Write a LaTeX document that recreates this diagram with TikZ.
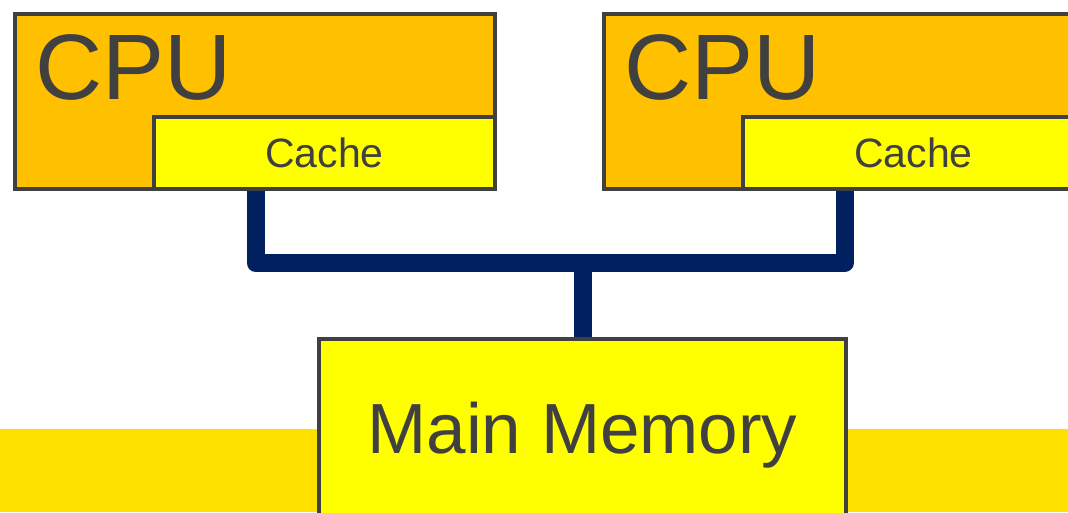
\documentclass[tikz,border=0pt]{standalone}
\usepackage{fontspec}
\setmainfont{Liberation Sans}
\usetikzlibrary{calc,backgrounds}

\definecolor{cpuorange}{HTML}{FFC000}
\definecolor{cacheyellow}{HTML}{FFFF00}
\definecolor{bandyellow}{HTML}{FFE100}
\definecolor{busblue}{HTML}{002060}
\definecolor{edgegray}{HTML}{404040}

\tikzset{
	cpubox/.style={draw=edgegray, line width=4pt, fill=cpuorange, inner sep=0pt,
		minimum width=480pt, minimum height=175pt},
	cachebox/.style={draw=edgegray, line width=4pt, fill=cacheyellow, inner sep=0pt,
		minimum width=341pt, minimum height=72pt, text=edgegray,
		font=\fontsize{41}{41}\selectfont},
	membox/.style={draw=edgegray, line width=4pt, fill=cacheyellow, inner sep=0pt,
		minimum width=527pt, minimum height=201pt},
	bigtext/.style={inner sep=0pt, text=edgegray, font=\fontsize{93}{93}\selectfont},
	memtext/.style={inner sep=0pt, text=edgegray, font=\fontsize{71}{71}\selectfont},
	bus/.style={draw=busblue, line width=18pt, line join=round}
}

\begin{document}
	\begin{tikzpicture}[x=1pt, y=-1pt]
		\useasboundingbox (0, 0) rectangle (1068, 512);
		\clip (0, 0) rectangle (1068, 512);
		%%
		\node[cpubox] (cpuA) at (255, 101.5) {};
		\node[cachebox, anchor=south east] (cacheA) at (cpuA.south east) {Cache};
		\node[bigtext, anchor=base west] (cpuAtext) at ([shift={(22, 87)}]cpuA.north west) {CPU};
		%%
		\node[cpubox] (cpuB) at (844, 101.5) {};
		\node[cachebox, anchor=south east] (cacheB) at (cpuB.south east) {Cache};
		\node[bigtext, anchor=base west] (cpuBtext) at ([shift={(22, 87)}]cpuB.north west) {CPU};
		%%
		\node[membox] (mem) at (582.5, 439.5) {};
		\node[memtext, anchor=base] (memtext) at (582.5, 453) {Main Memory};
		%%
		\coordinate (tapA) at ($(cacheA.south west)!0.3!(cacheA.south east)$);
		\coordinate (tapB) at ($(cacheB.south west)!0.3!(cacheB.south east)$);
		\coordinate (busline) at (0, 263);
		%%
		\begin{pgfonlayer}{background}
		\fill[bandyellow] (0, 429) rectangle (1068, 512);
		\draw[bus] (tapA) -- (tapA |- busline) -| (tapB);
		\draw[bus] (mem.north) -- (mem.north |- busline);
		\end{pgfonlayer}
	\end{tikzpicture}
\end{document}
